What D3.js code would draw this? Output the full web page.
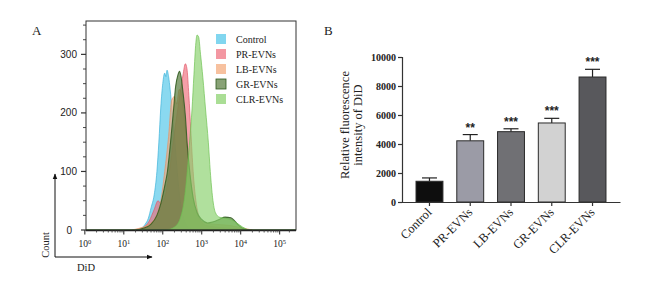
<!DOCTYPE html>
<html>
<head>
<meta charset="utf-8">
<script src="https://cdn.jsdelivr.net/npm/d3@7/dist/d3.min.js"></script>
<style>
  html, body { margin: 0; padding: 0; background: #fff; }
  text { font-family: "Liberation Serif", "Times New Roman", serif; fill: #222; }
</style>
</head>
<body>
<svg id="chart" width="648" height="281"></svg>
<script>
// ---------------- Panel A data: histograms [log10(DiD), count] ----------------
const histNames = ["Control", "PR-EVNs", "LB-EVNs", "GR-EVNs", "CLR-EVNs"];
const histColors = ["#4cc4e8", "#ee6b7a", "#f4a676", "#557a3c", "#86d068"];
const histStrokes = ["#3ab0d8", "#e05566", "#e89060", "#2f5a1e", "#6cc050"];

const controlHist = [[1.3,0],[1.45,3],[1.55,10],[1.63,20],[1.7,38],[1.78,60],[1.85,100],[1.9,150],[1.95,210],[2.0,250],[2.05,268],[2.08,262],[2.11,273],[2.15,262],[2.19,240],[2.24,205],[2.3,160],[2.36,110],[2.42,65],[2.5,30],[2.6,10],[2.7,3],[2.85,0]];
const prHist = [[1.3,0],[1.5,4],[1.65,15],[1.78,35],[1.88,50],[1.95,45],[2.05,55],[2.15,90],[2.25,140],[2.35,190],[2.45,235],[2.52,265],[2.58,284],[2.62,276],[2.67,230],[2.72,170],[2.78,100],[2.85,50],[2.95,20],[3.1,8],[3.5,4],[4.0,2],[4.3,0]];
const lbHist = [[1.2,0],[1.4,3],[1.6,8],[1.8,20],[1.95,50],[2.05,100],[2.15,160],[2.23,222],[2.3,228],[2.36,215],[2.42,240],[2.48,232],[2.56,185],[2.63,135],[2.7,92],[2.78,55],[2.88,28],[3.0,15],[3.3,10],[3.7,8],[4.0,4],[4.3,0]];
const grHist = [[1.3,0],[1.5,3],[1.7,10],[1.85,25],[1.95,45],[2.05,75],[2.12,100],[2.2,150],[2.27,200],[2.33,245],[2.39,265],[2.43,271],[2.47,262],[2.52,235],[2.58,195],[2.63,145],[2.7,95],[2.78,55],[2.88,30],[3.0,18],[3.15,12],[3.3,14],[3.45,18],[3.6,22],[3.75,21],[3.85,15],[3.95,8],[4.05,3],[4.2,0]];
const clrHist = [[2.1,0],[2.3,5],[2.45,20],[2.55,50],[2.63,100],[2.7,160],[2.75,205],[2.8,265],[2.85,320],[2.88,333],[2.92,330],[2.97,300],[3.03,260],[3.1,205],[3.17,150],[3.22,100],[3.28,55],[3.35,30],[3.45,22],[3.6,20],[3.75,18],[3.9,12],[4.05,5],[4.2,0]];
const histSeries = [controlHist, prHist, lbHist, grHist, clrHist];

const histYTicks = [0, 100, 200, 300];
const histXTicks = [0, 1, 2, 3, 4, 5];

// ---------------- Panel B data ----------------
const barCategories = ["Control", "PR-EVNs", "LB-EVNs", "GR-EVNs", "CLR-EVNs"];
const barValues = [1430, 4220, 4850, 5450, 8620];
const barErrors = [230, 430, 200, 320, 530];
const barStars = ["", "**", "***", "***", "***"];
const barColors = ["#0e0e0e", "#9b9ba6", "#707074", "#d2d2d2", "#58585c"];
const barYTicks = [0, 2000, 4000, 6000, 8000, 10000];

const svg = d3.select("#chart");

// ================= Panel A =================
const ax = { left: 86, right: 296, top: 21, bottom: 230 };
const xA = d3.scaleLinear().domain([0.03, 5.42]).range([ax.left, ax.right]);
const yA = d3.scaleLinear().domain([0, 357]).range([ax.bottom, ax.top]);

svg.append("text").attr("x", 32).attr("y", 35).attr("font-size", 13).text("A");

const area = d3.area()
  .x(d => xA(d[0]))
  .y0(yA(0))
  .y1(d => yA(d[1]))
  .curve(d3.curveMonotoneX);
const lineGen = d3.line().x(d => xA(d[0])).y(d => yA(d[1])).curve(d3.curveMonotoneX);

const gH = svg.append("g");
histSeries.forEach((s, i) => {
  gH.append("path").datum(s).attr("d", area)
    .attr("fill", histColors[i]).attr("fill-opacity", i === 3 ? 0.7 : 0.65);
  gH.append("path").datum(s).attr("d", lineGen)
    .attr("fill", "none").attr("stroke", histStrokes[i])
    .attr("stroke-width", i === 3 ? 1.1 : 0.8).attr("stroke-opacity", 0.85);
});
gH.append("line").attr("x1", ax.left).attr("x2", ax.right)
  .attr("y1", yA(0)).attr("y2", yA(0)).attr("stroke", "#4f8a3a").attr("stroke-width", 1.5);

// frame
svg.append("rect").attr("x", ax.left).attr("y", ax.top)
  .attr("width", ax.right - ax.left).attr("height", ax.bottom - ax.top)
  .attr("fill", "none").attr("stroke", "#333").attr("stroke-width", 1);
svg.append("line").attr("x1", ax.left).attr("x2", ax.right)
  .attr("y1", ax.bottom + 0.5).attr("y2", ax.bottom + 0.5).attr("stroke", "#222").attr("stroke-width", 1.4);

// y axis ticks (major + minor every 25)
const yAxisA = svg.append("g");
d3.range(0, 351, 25).forEach(v => {
  const major = histYTicks.includes(v);
  yAxisA.append("line").attr("x1", ax.left).attr("x2", ax.left - (major ? 5 : 3))
    .attr("y1", yA(v)).attr("y2", yA(v)).attr("stroke", "#333").attr("stroke-width", major ? 1.2 : 0.9);
});
histYTicks.forEach(v => {
  yAxisA.append("text").attr("x", v === 0 ? 72 : 77).attr("y", yA(v) + 3.5)
    .attr("text-anchor", "end").attr("font-size", 10)
    .style("font-family", "Liberation Sans, Arial, sans-serif").text(v);
});

// x axis log ticks
const xAxisA = svg.append("g");
histXTicks.forEach(e => {
  xAxisA.append("line").attr("x1", xA(e)).attr("x2", xA(e))
    .attr("y1", ax.bottom).attr("y2", ax.bottom + 4.5).attr("stroke", "#333").attr("stroke-width", 1.1);
  if (e < 5) {
    for (let m = 2; m <= 9; m++) {
      const lx = e + Math.log10(m);
      if (lx < 0.03) continue;
      xAxisA.append("line").attr("x1", xA(lx)).attr("x2", xA(lx))
        .attr("y1", ax.bottom).attr("y2", ax.bottom + 2.5).attr("stroke", "#333").attr("stroke-width", 0.8);
    }
  }
  const t = xAxisA.append("text").attr("x", xA(e)).attr("y", 247)
    .attr("text-anchor", "middle").attr("font-size", 9.5);
  t.append("tspan").text("10");
  t.append("tspan").attr("dy", -3.5).attr("font-size", 6.5).text(e);
});
[5.25].forEach(lx => {
  xAxisA.append("line").attr("x1", xA(lx)).attr("x2", xA(lx))
    .attr("y1", ax.bottom).attr("y2", ax.bottom + 2.5).attr("stroke", "#333").attr("stroke-width", 0.8);
});

// arrows
const defs = svg.append("defs");
defs.append("marker").attr("id", "arr").attr("viewBox", "0 0 10 10")
  .attr("refX", 9).attr("refY", 5).attr("markerWidth", 6).attr("markerHeight", 6)
  .attr("orient", "auto")
  .append("path").attr("d", "M0,1 L10,5 L0,9 z").attr("fill", "#111");
svg.append("line").attr("x1", 55).attr("y1", 257).attr("x2", 55).attr("y2", 174)
  .attr("stroke", "#111").attr("stroke-width", 1).attr("marker-end", "url(#arr)");
svg.append("line").attr("x1", 55).attr("y1", 257).attr("x2", 152).attr("y2", 257)
  .attr("stroke", "#111").attr("stroke-width", 1).attr("marker-end", "url(#arr)");
svg.append("text").attr("transform", "translate(49,245) rotate(-90)")
  .attr("text-anchor", "middle").attr("font-size", 10.5).text("Count");
svg.append("text").attr("x", 86).attr("y", 271).attr("text-anchor", "middle")
  .attr("font-size", 10.5).text("DiD");

// legend
const leg = svg.append("g");
histNames.forEach((n, i) => {
  const y = 39 + i * 15;
  leg.append("rect").attr("x", 216).attr("y", y - 5).attr("width", 10).attr("height", 10)
    .attr("fill", histColors[i]).attr("fill-opacity", 0.7)
    .attr("stroke", i === 3 ? "#2f5a1e" : "none").attr("stroke-width", 0.8);
  leg.append("text").attr("x", 236).attr("y", y + 3.5).attr("font-size", 10).text(n);
});

// ================= Panel B =================
svg.append("text").attr("x", 324).attr("y", 35).attr("font-size", 13).text("B");

const bx = { left: 402, right: 620, top: 57, bottom: 202 };
const xB = d3.scaleBand().domain(barCategories).range([bx.left, bx.right])
  .paddingInner(0.34).paddingOuter(0.344);
const yB = d3.scaleLinear().domain([0, 10000]).range([bx.bottom, bx.top]);

const gB = svg.append("g");
barCategories.forEach((c, i) => {
  const cx = xB(c) + xB.bandwidth() / 2;
  gB.append("line").attr("x1", cx).attr("x2", cx)
    .attr("y1", yB(barValues[i])).attr("y2", yB(barValues[i] + barErrors[i]))
    .attr("stroke", "#222").attr("stroke-width", 1.2);
  gB.append("line").attr("x1", cx - 7.5).attr("x2", cx + 7.5)
    .attr("y1", yB(barValues[i] + barErrors[i])).attr("y2", yB(barValues[i] + barErrors[i]))
    .attr("stroke", "#222").attr("stroke-width", 1.2);
  if (barStars[i]) {
    gB.append("text").attr("x", cx).attr("y", yB(barValues[i] + barErrors[i]) - 3)
      .attr("text-anchor", "middle").attr("font-size", 12).attr("font-weight", "bold")
      .style("font-family", "Liberation Sans, Arial, sans-serif").attr("fill", "#333")
      .text(barStars[i]);
  }
});
gB.selectAll("rect.bar").data(barCategories).enter().append("rect")
  .attr("class", "bar")
  .attr("x", c => xB(c)).attr("width", xB.bandwidth())
  .attr("y", (c, i) => yB(barValues[i]))
  .attr("height", (c, i) => yB(0) - yB(barValues[i]))
  .attr("fill", (c, i) => barColors[i]).attr("stroke", "#2a2a2a").attr("stroke-width", 1);

// y axis
const yAxisB = svg.append("g").attr("transform", `translate(${bx.left},0)`)
  .call(d3.axisLeft(yB).tickValues(barYTicks).tickSize(4).tickPadding(2).tickFormat(d3.format("d")));
yAxisB.select(".domain").attr("stroke", "#333").attr("stroke-width", 1.2);
yAxisB.selectAll(".tick line").attr("stroke", "#333").attr("stroke-width", 1.2);
yAxisB.selectAll(".tick text").attr("font-size", 10).attr("font-weight", "bold")
  .style("font-family", "Liberation Serif, serif").attr("fill", "#333");

// x axis
const xAxisB = svg.append("g").attr("transform", `translate(0,${bx.bottom})`)
  .call(d3.axisBottom(xB).tickSize(4).tickSizeOuter(0).tickFormat(""));
xAxisB.select(".domain").attr("stroke", "#333").attr("stroke-width", 1.2);
xAxisB.selectAll(".tick line").attr("stroke", "#333").attr("stroke-width", 1.2);
barCategories.forEach(c => {
  const cx = xB(c) + xB.bandwidth() / 2;
  svg.append("text").attr("transform", `translate(${cx + 3},${bx.bottom + 11}) rotate(-45)`)
    .attr("text-anchor", "end").attr("font-size", 12.5).attr("fill", "#222").text(c);
});

// y title
const yt = svg.append("text").attr("transform", "translate(349,125) rotate(-90)")
  .attr("text-anchor", "middle").attr("font-size", 12.5);
yt.append("tspan").attr("x", 0).attr("dy", 0).text("Relative fluorescence");
yt.append("tspan").attr("x", 0).attr("dy", 13).text("intensity of DiD");
</script>
</body>
</html>
